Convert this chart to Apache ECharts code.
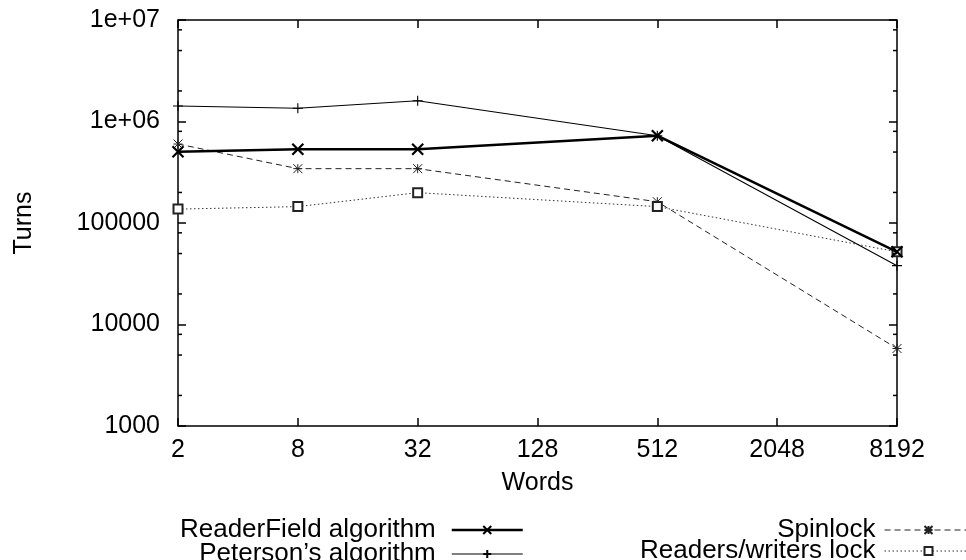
<!DOCTYPE html>
<html><head><meta charset="utf-8">
<script src="https://cdn.jsdelivr.net/npm/echarts@6/dist/echarts.min.js"></script>
<style>html,body{margin:0;padding:0;background:#fff}#c{width:966px;height:560px}</style>
</head><body><div id="c"></div>
<script>
// ---- data ----
const words = [2, 8, 32, 512, 8192];
const readerField = [504000, 532000, 532000, 725000, 52000];
const peterson = [1420000, 1350000, 1600000, 725000, 38000];
const spinlock = [600000, 343000, 343000, 162000, 5800];
const rwLock = [137000, 145000, 199000, 145000, 52000];
const seriesNames = ['ReaderField algorithm', 'Peterson\u2019s algorithm', 'Spinlock', 'Readers/writers lock'];
const xTickValues = [2, 8, 32, 128, 512, 2048, 8192];
const xTickLabels = ['2', '8', '32', '128', '512', '2048', '8192'];
const yTickValues = [1000, 10000, 100000, 1000000, 10000000];
const yTickLabels = ['1000', '10000', '100000', '1e+06', '1e+07'];
const yMinorTicks = [2000, 5000, 8000, 20000, 50000, 80000, 200000, 500000, 800000, 2000000, 5000000, 8000000];
const xAxisTitle = 'Words';
const yAxisTitle = 'Turns';

const FONT = 'Liberation Sans';
const FS = 25;
const LFS = 26;
const xMin = xTickValues[0], xMax = xTickValues[xTickValues.length - 1];
const yMin = yTickValues[0], yMax = yTickValues[yTickValues.length - 1];

function pair(xs, ys) { return xs.map((x, i) => [x, ys[i]]); }
function xLabel(v) {
  const i = xTickValues.findIndex(t => Math.abs(t - v) / t < 1e-6);
  return i >= 0 ? xTickLabels[i] : '';
}
function yLabel(v) {
  const i = yTickValues.findIndex(t => Math.abs(t - v) / t < 1e-6);
  return i >= 0 ? yTickLabels[i] : '';
}

const tickStyle = { color: '#000', width: 1.5 };
const chart = echarts.init(document.getElementById('c'), null, { renderer: 'canvas' });
const option = {
  animation: false,
  backgroundColor: '#fff',
  textStyle: { fontFamily: FONT, fontSize: FS, color: '#000' },
  grid: { left: 178, right: 69, top: 20, bottom: 134, show: true, borderColor: '#000', borderWidth: 1.5, backgroundColor: 'transparent' },
  xAxis: [{
    type: 'log', logBase: 2, min: xMin, max: xMax, interval: 2,
    name: xAxisTitle, nameLocation: 'middle', nameGap: 45,
    nameTextStyle: { fontFamily: FONT, fontSize: FS, color: '#000' },
    axisLine: { show: false },
    axisTick: { show: true, inside: true, length: 8, lineStyle: tickStyle },
    axisLabel: { show: true, margin: 12, fontFamily: FONT, fontSize: FS, color: '#000', formatter: xLabel, showMinLabel: true, showMaxLabel: true, hideOverlap: false },
    splitLine: { show: false }, minorTick: { show: false }
  }, {
    type: 'log', logBase: 2, min: xMin, max: xMax, interval: 2, position: 'top',
    axisLine: { show: false },
    axisTick: { show: true, inside: true, length: 8, lineStyle: tickStyle },
    axisLabel: { show: false }, splitLine: { show: false }
  }],
  yAxis: [{
    type: 'log', logBase: 10, min: yMin, max: yMax,
    name: yAxisTitle, nameLocation: 'middle', nameGap: 141, nameRotate: 90,
    nameTextStyle: { fontFamily: FONT, fontSize: FS, color: '#000' },
    axisLine: { show: false },
    axisTick: { show: true, inside: true, length: 8, lineStyle: tickStyle },
    axisLabel: { show: true, margin: 18, fontFamily: FONT, fontSize: FS, color: '#000', formatter: yLabel, showMinLabel: true, showMaxLabel: true },
    splitLine: { show: false }
  }, {
    type: 'log', logBase: 10, min: yMin, max: yMax, position: 'right',
    axisLine: { show: false },
    axisTick: { show: true, inside: true, length: 8, lineStyle: tickStyle },
    axisLabel: { show: false }, splitLine: { show: false }
  }],
  legend: [{
    data: [seriesNames[0], seriesNames[1]],
    orient: 'vertical', align: 'right', right: 442, top: 517, height: 120, padding: 0,
    itemWidth: 71, itemHeight: 10, itemGap: -2,
    textStyle: { fontFamily: FONT, fontSize: LFS, color: '#000', padding: [0, 11, 0, 0] },
    lineStyle: { width: 'inherit' },
    selectedMode: false
  }, {
    data: [seriesNames[2], seriesNames[3]],
    orient: 'vertical', align: 'right', right: -7, top: 517, height: 120, padding: 0,
    itemWidth: 88, itemHeight: 10, itemGap: -5,
    textStyle: { fontFamily: FONT, fontSize: LFS, color: '#000', padding: [0, 4, 0, 0] },
    lineStyle: { width: 'inherit' },
    selectedMode: false
  }],
  series: [{
    name: seriesNames[0], type: 'line', data: pair(words, readerField),
    symbol: 'path://M0,0L10,10M10,0L0,10', symbolSize: 11,
    lineStyle: { color: '#000', width: 2.5, type: 'solid' },
    itemStyle: { color: '#000', borderColor: '#000', borderWidth: 2.2 },
    z: 5
  }, {
    name: seriesNames[1], type: 'line', data: pair(words, peterson),
    symbol: 'path://M5,0L5,10M0,5L10,5', symbolSize: 10,
    lineStyle: { color: '#000', width: 1.1, type: 'solid' },
    itemStyle: { color: '#000', borderColor: '#000', borderWidth: 1.1 },
    z: 4
  }, {
    name: seriesNames[2], type: 'line', data: pair(words, spinlock),
    symbol: 'path://M0,0L10,10M10,0L0,10M5,0L5,10M0,5L10,5', symbolSize: 9,
    lineStyle: { color: '#222', width: 1, type: [6, 4] },
    itemStyle: { color: '#222', borderColor: '#222', borderWidth: 1 },
    z: 3
  }, {
    name: seriesNames[3], type: 'line', data: pair(words, rwLock),
    symbol: 'emptyRect', symbolSize: 9,
    lineStyle: { color: '#333', width: 1, type: [1.5, 2.5] },
    itemStyle: { color: '#222', borderColor: '#222', borderWidth: 1 },
    z: 3
  }, {
    type: 'custom', silent: true, clip: false, z: 10,
    data: yMinorTicks.map(v => [xMin, v]),
    renderItem: function (params, api) {
      const v = api.value(1);
      const pl = api.coord([xMin, v]);
      const pr = api.coord([xMax, v]);
      return { type: 'group', children: [
        { type: 'line', shape: { x1: pl[0], y1: pl[1], x2: pl[0] + 4, y2: pl[1] }, style: { stroke: '#000', lineWidth: 1.5 } },
        { type: 'line', shape: { x1: pr[0] - 4, y1: pr[1], x2: pr[0], y2: pr[1] }, style: { stroke: '#000', lineWidth: 1.5 } }
      ] };
    }
  }]
};
chart.setOption(option);
</script></body></html>
